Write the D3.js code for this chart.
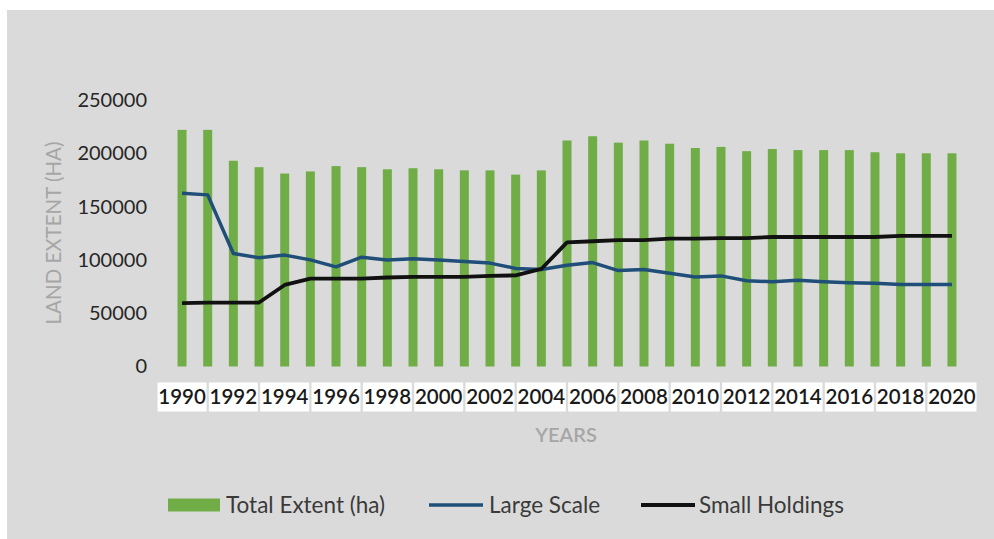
<!DOCTYPE html>
<html>
<head>
<meta charset="utf-8">
<script src="https://cdn.jsdelivr.net/npm/d3@7"></script>
<style>
  html, body { margin: 0; padding: 0; background: #ffffff; }
  svg { display: block; }
  text { font-family: Lato, "Open Sans", "DejaVu Sans", sans-serif; }
</style>
</head>
<body>
<svg id="chart" width="994" height="539"></svg>
<script>
// Land extent (ha) by year
const years = d3.range(1990, 2021);
const totalExtent = [
  222000, 222000, 193000, 187000, 181000, 183000, 188000, 187000, 185000, 186000,
  185000, 184000, 184000, 180000, 184000, 212000, 216000, 210000, 212000, 209000,
  205000, 206000, 202000, 204000, 203000, 203000, 203000, 201000, 200000, 200000,
  200000
];
const largeScale = [
  162500, 161000, 106000, 102000, 104500, 100000, 93500, 102500, 100000, 101000,
  100000, 98500, 97000, 92000, 91000, 95000, 97500, 90000, 91000, 87500,
  84000, 85000, 80500, 79500, 81000, 79500, 78500, 78000, 77000, 77000,
  77000
];
const smallHoldings = [
  59500, 60000, 60000, 60000, 76500, 82500, 82500, 82500, 83500, 84000,
  84000, 84000, 85000, 85500, 91500, 116500, 117500, 118500, 118500, 120000,
  120000, 120500, 120500, 121500, 121500, 121500, 121500, 121500, 122500, 122500,
  122500
];
const yTicks = [0, 50000, 100000, 150000, 200000, 250000];
const xLabelYears = years.filter(y => (y - 1990) % 2 === 0);

const svg = d3.select("#chart");

// panel background
svg.append("rect")
  .attr("x", 7).attr("y", 10)
  .attr("width", 994 - 7).attr("height", 539 - 10)
  .attr("fill", "#dadada");

const x = d3.scaleBand()
  .domain(years)
  .range([169.2, 964.8])
  .paddingInner(0.65)
  .paddingOuter(0.325);

const y = d3.scaleLinear()
  .domain([0, 250000])
  .range([366.5, 100]);

const cx = yr => x(yr) + x.bandwidth() / 2;

// y axis labels
const yAxis = d3.axisLeft(y)
  .tickValues(yTicks)
  .tickFormat(d3.format("d"))
  .tickSize(0)
  .tickPadding(0);
const yg = svg.append("g")
  .attr("transform", "translate(147,0)")
  .call(yAxis);
yg.select(".domain").remove();
yg.selectAll("text")
  .attr("font-family", "Lato, 'Open Sans', sans-serif")
  .attr("font-size", 20)
  .attr("fill", "#262626");

// bars
svg.append("g")
  .selectAll("rect")
  .data(years)
  .join("rect")
  .attr("x", d => x(d))
  .attr("width", x.bandwidth())
  .attr("y", (d, i) => y(totalExtent[i]))
  .attr("height", (d, i) => y(0) - y(totalExtent[i]))
  .attr("fill", "#70ad47");

// lines
const line = d3.line()
  .x(d => cx(d[0]))
  .y(d => y(d[1]));

svg.append("path")
  .datum(years.map((yr, i) => [yr, largeScale[i]]))
  .attr("d", line)
  .attr("fill", "none")
  .attr("stroke", "#1f4e79")
  .attr("stroke-width", 3.5)
  .attr("stroke-linejoin", "round");

svg.append("path")
  .datum(years.map((yr, i) => [yr, smallHoldings[i]]))
  .attr("d", line)
  .attr("fill", "none")
  .attr("stroke", "#111111")
  .attr("stroke-width", 3.8)
  .attr("stroke-linejoin", "round");

// x axis labels on white boxes
const xAxis = d3.axisBottom(x)
  .tickValues(xLabelYears)
  .tickSize(0)
  .tickPadding(0);
const xg = svg.append("g")
  .attr("transform", "translate(0,397)")
  .call(xAxis);
xg.select(".domain").remove();
xg.selectAll(".tick").insert("rect", "text")
  .attr("x", -24.5).attr("y", -14.5)
  .attr("width", 49).attr("height", 29)
  .attr("fill", "#ffffff");
xg.selectAll("text")
  .attr("y", 0)
  .attr("dy", "0.35em")
  .attr("font-family", "Lato, 'Open Sans', sans-serif")
  .attr("font-size", 20.5)
  .attr("font-weight", 600)
  .attr("fill", "#1a1a1a");

// axis titles
svg.append("text")
  .attr("transform", "translate(54,233) rotate(-90)")
  .attr("text-anchor", "middle")
  .attr("dy", "0.35em")
  .attr("font-size", 20.5)
  .attr("fill", "#a6a6a6")
  .text("LAND EXTENT (HA)");

svg.append("text")
  .attr("x", 566).attr("y", 435)
  .attr("text-anchor", "middle")
  .attr("dy", "0.35em")
  .attr("font-size", 20)
  .attr("font-weight", 600)
  .attr("fill", "#a6a6a6")
  .text("YEARS");

// legend
const legend = svg.append("g").attr("transform", "translate(0,505)");
legend.append("rect")
  .attr("x", 168).attr("y", -6.5)
  .attr("width", 52).attr("height", 13)
  .attr("fill", "#70ad47");
legend.append("text")
  .attr("x", 226).attr("dy", "0.35em")
  .attr("font-size", 22.5).attr("fill", "#3a3a3a")
  .text("Total Extent (ha)");
legend.append("line")
  .attr("x1", 429).attr("x2", 483)
  .attr("stroke", "#1f4e79").attr("stroke-width", 3.5);
legend.append("text")
  .attr("x", 489).attr("dy", "0.35em")
  .attr("font-size", 22.5).attr("fill", "#3a3a3a")
  .text("Large Scale");
legend.append("line")
  .attr("x1", 641).attr("x2", 695)
  .attr("stroke", "#111111").attr("stroke-width", 3.8);
legend.append("text")
  .attr("x", 699).attr("dy", "0.35em")
  .attr("font-size", 22.5).attr("fill", "#3a3a3a")
  .text("Small Holdings");
</script>
</body>
</html>
